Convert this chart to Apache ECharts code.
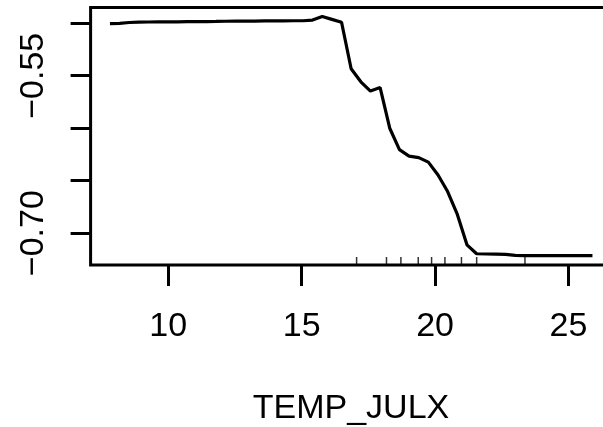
<!DOCTYPE html>
<html>
<head>
<meta charset="utf-8">
<script src="https://cdn.jsdelivr.net/npm/echarts@6/dist/echarts.min.js"></script>
<style>
html,body{margin:0;padding:0;background:#fff;overflow:hidden;width:603px;height:427px;}
#chart{width:616px;height:427px;}
</style>
</head>
<body>
<div id="chart"></div>
<script>
// Partial dependence on TEMP_JULX
const xValues = [7.815, 8.175, 8.538, 8.898, 9.262, 9.621, 9.985, 10.345, 10.708, 11.068,
  11.432, 11.792, 12.155, 12.515, 12.879, 13.238, 13.602, 13.962, 14.325, 14.685,
  15.049, 15.409, 15.772, 16.132, 16.496, 16.855, 17.219, 17.579, 17.942, 18.302,
  18.666, 19.025, 19.389, 19.749, 20.112, 20.472, 20.836, 21.196, 21.559, 21.919,
  22.283, 22.643, 23.006, 23.366, 23.729, 24.089, 24.453, 24.813, 25.176, 25.536, 25.900];
const yValues = [-0.5003, -0.5001, -0.4993, -0.4989, -0.4988, -0.4987, -0.4986, -0.4986, -0.4985, -0.4985,
  -0.4984, -0.4983, -0.4981, -0.4980, -0.4979, -0.4979, -0.4978, -0.4977, -0.4977, -0.4976,
  -0.4976, -0.4970, -0.4936, -0.4963, -0.4991, -0.5433, -0.5558, -0.5646, -0.5613, -0.6000,
  -0.6204, -0.6266, -0.6280, -0.6323, -0.6446, -0.6603, -0.6821, -0.7111, -0.7196, -0.7198,
  -0.7200, -0.7202, -0.7211, -0.7213, -0.7213, -0.7213, -0.7213, -0.7213, -0.7213, -0.7213, -0.7213];
const rugValues = [17.06, 18.18, 18.72, 19.37, 19.87, 20.37, 20.99, 21.56, 23.37];
const xTicks = [10, 15, 20, 25];
const yTicks = [-0.70, -0.65, -0.60, -0.55, -0.50];
const yLabelTicks = [-0.70, -0.55];
const xName = 'TEMP_JULX';

const X_MIN = 7.09, X_MAX = 26.61, Y_MIN = -0.7303, Y_MAX = -0.4850;
const FONT = "'Liberation Sans', Arial, sans-serif";

const chart = echarts.init(document.getElementById('chart'), null, {renderer: 'canvas'});
chart.setOption({
  animation: false,
  backgroundColor: '#ffffff',
  grid: {
    left: 90.6, top: 7.5, width: 520.8, height: 257.5,
    outerBoundsMode: 'none', containLabel: false,
    show: true, borderColor: '#000', borderWidth: 3, backgroundColor: 'transparent'
  },
  xAxis: {
    type: 'value', min: X_MIN, max: X_MAX,
    name: xName, nameLocation: 'middle', nameGap: 127,
    nameTextStyle: {fontFamily: FONT, fontSize: 34, color: '#000'},
    axisLine: {show: false},
    axisTick: {show: true, customValues: xTicks, length: 21, inside: false,
      lineStyle: {color: '#000', width: 3}},
    axisLabel: {show: true, customValues: xTicks, margin: 45, fontFamily: FONT, fontSize: 34, color: '#000'},
    splitLine: {show: false}
  },
  yAxis: {
    type: 'value', min: Y_MIN, max: Y_MAX,
    axisLine: {show: false},
    axisTick: {show: true, customValues: yTicks, length: 20, inside: false,
      lineStyle: {color: '#000', width: 3}},
    axisLabel: {show: true, customValues: yLabelTicks, rotate: 90, margin: 40,
      fontFamily: FONT, fontSize: 34, color: '#000',
      formatter: v => (v < 0 ? '\u2212' : '') + Math.abs(v).toFixed(2)},
    splitLine: {show: false}
  },
  series: [
    {
      type: 'line',
      data: xValues.map((x, i) => [x, yValues[i]]),
      showSymbol: false, symbol: 'none',
      lineStyle: {color: '#000', width: 3.2},
      z: 3
    },
    {
      type: 'scatter',
      data: rugValues.map(x => [x, Y_MIN]),
      symbol: 'rect', symbolSize: [1.5, 8], symbolOffset: [0, -4],
      itemStyle: {color: '#000'},
      clip: false,
      silent: true,
      z: 2
    }
  ]
});
</script>
</body>
</html>
